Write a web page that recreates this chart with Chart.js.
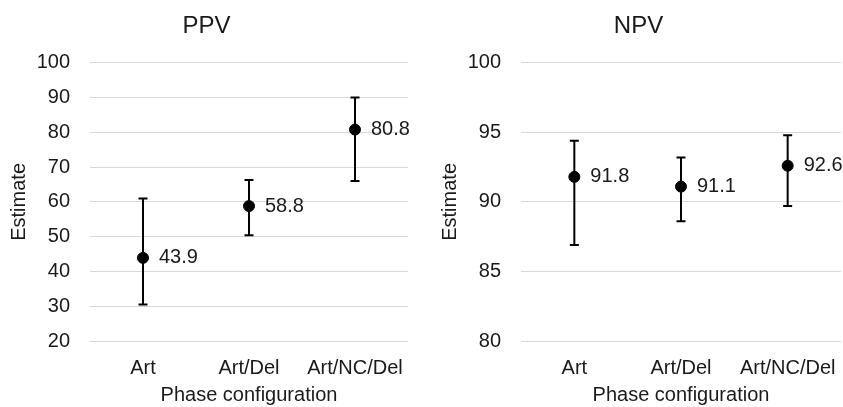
<!DOCTYPE html>
<html>
<head>
<meta charset="utf-8">
<script src="https://cdn.jsdelivr.net/npm/chart.js@4"></script>
<style>
  body { margin:0; background:#fff; }
  .box { position:absolute; top:0; height:407px; }
</style>
</head>
<body>
<div class="box" style="left:0; width:420px;"><canvas id="ppvChart" width="420" height="407"></canvas></div>
<div class="box" style="left:420px; width:423px;"><canvas id="npvChart" width="423" height="407"></canvas></div>
<script>
// данные с картинки
const categories = ['Art', 'Art/Del', 'Art/NC/Del'];

const ppvEstimate = [43.9, 58.8, 80.8];
const ppvLower    = [30.5, 50.4, 66.0];
const ppvUpper    = [61.0, 66.3, 90.0];

const npvEstimate = [91.8, 91.1, 92.6];
const npvLower    = [86.9, 88.6, 89.7];
const npvUpper    = [94.4, 93.2, 94.8];

const ppvTicks = { min: 20, max: 100, step: 10 };
const npvTicks = { min: 80, max: 100, step: 5 };

const textColor = '#1a1a1a';
const fontFamily = '"Liberation Sans", Arial, sans-serif';

// усы (доверительные интервалы)
const errorBars = {
  id: 'errorBars',
  beforeDatasetsDraw(chart, args, opts) {
    const ctx = chart.ctx;
    const meta = chart.getDatasetMeta(0);
    const yScale = chart.scales.y;
    ctx.save();
    ctx.strokeStyle = '#000';
    ctx.lineWidth = 2;
    meta.data.forEach((pt, i) => {
      const yLo = yScale.getPixelForValue(opts.lower[i]);
      const yHi = yScale.getPixelForValue(opts.upper[i]);
      ctx.beginPath();
      ctx.moveTo(pt.x, yLo); ctx.lineTo(pt.x, yHi);
      ctx.moveTo(pt.x - 4.5, yLo); ctx.lineTo(pt.x + 4.5, yLo);
      ctx.moveTo(pt.x - 4.5, yHi); ctx.lineTo(pt.x + 4.5, yHi);
      ctx.stroke();
    });
    ctx.restore();
  }
};

// подписи значений справа от точек
const valueLabels = {
  id: 'valueLabels',
  afterDatasetsDraw(chart) {
    const ctx = chart.ctx;
    const meta = chart.getDatasetMeta(0);
    const data = chart.data.datasets[0].data;
    ctx.save();
    ctx.fillStyle = textColor;
    ctx.font = '20px ' + fontFamily;
    ctx.textAlign = 'left';
    ctx.textBaseline = 'middle';
    meta.data.forEach((pt, i) => {
      ctx.fillText(data[i].toFixed(1), pt.x + 16, pt.y);
    });
    ctx.restore();
  }
};

function makeChart(id, title, values, lower, upper, ticks, pad) {
  return new Chart(document.getElementById(id), {
    type: 'line',
    data: {
      labels: categories,
      datasets: [{
        data: values,
        showLine: false,
        pointRadius: 5.5,
        pointHoverRadius: 5.5,
        pointBackgroundColor: '#000',
        pointBorderColor: '#000'
      }]
    },
    options: {
      responsive: false,
      animation: false,
      layout: { autoPadding: false, padding: { left: pad.left, right: pad.right, top: 0, bottom: 0 } },
      plugins: {
        legend: { display: false },
        tooltip: { enabled: false },
        title: {
          display: true,
          text: title,
          color: textColor,
          font: { family: fontFamily, size: 24, weight: 'normal' },
          padding: { top: 12, bottom: 22 }
        },
        errorBars: { lower, upper }
      },
      scales: {
        x: {
          offset: true,
          grid: { display: false, drawTicks: false },
          border: { display: false },
          ticks: { color: textColor, font: { family: fontFamily, size: 20 }, padding: 15, maxRotation: 0 },
          title: {
            display: true, text: 'Phase configuration', color: textColor,
            font: { family: fontFamily, size: 20 }, padding: { top: 3, bottom: 0 }
          },
          afterFit: s => { s.height = 66; s.paddingLeft = 0; s.paddingRight = 0; }
        },
        y: {
          min: ticks.min, max: ticks.max,
          grid: { color: '#d9d9d9', lineWidth: 1, drawTicks: false },
          border: { display: false },
          ticks: { stepSize: ticks.step, color: textColor, font: { family: fontFamily, size: 20 }, padding: 20 },
          title: {
            display: true, text: 'Estimate', color: textColor,
            font: { family: fontFamily, size: 20 }, padding: { top: 2, bottom: 0 }
          },
          afterFit: s => { s.width = 85; }
        }
      }
    },
    plugins: [errorBars, valueLabels]
  });
}

makeChart('ppvChart', 'PPV', ppvEstimate, ppvLower, ppvUpper, ppvTicks, { left: 5, right: 12 });
makeChart('npvChart', 'NPV', npvEstimate, npvLower, npvUpper, npvTicks, { left: 16, right: 2 });
</script>
</body>
</html>
